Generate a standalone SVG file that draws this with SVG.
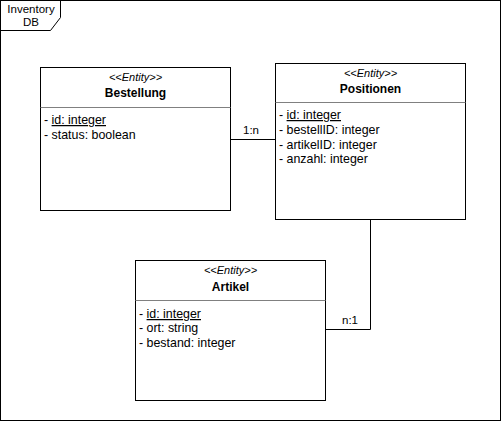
<svg xmlns="http://www.w3.org/2000/svg" width="501" height="421" viewBox="0 0 501 421">
<style>
text{font-family:"Liberation Sans",Arial,sans-serif;fill:#000}
.box{fill:#fff;stroke:#000;stroke-width:1}
.sep{stroke:#808080;stroke-width:1}
.st{font-size:11px;font-style:italic;text-anchor:middle}
.nm{font-size:12px;font-weight:bold;text-anchor:middle}
.at{font-size:12.4px}
.lbl{font-size:11.5px}
.con{fill:none;stroke:#000;stroke-width:1}
</style>
<rect width="501" height="421" fill="#fff"/>
<g id="frame">
<rect x="0.5" y="0.5" width="500" height="420" fill="none" stroke="#000"/>
<path d="M0.5 30.5 H50.5 L60.5 17.5 V0.5" fill="none" stroke="#000"/>
<text x="31" y="13" font-size="11.5" text-anchor="middle">Inventory</text>
<text x="31" y="26" font-size="11.5" text-anchor="middle">DB</text>
</g>
<g id="connectors">
<path class="con" d="M230.5 139.5 H275.5"/>
<text class="lbl" x="243" y="134">1:n</text>
<path class="con" d="M370.5 219.5 V329.5 H325.5"/>
<text class="lbl" x="342" y="324">n:1</text>
</g>
<g id="Bestellung">
<rect class="box" x="40.5" y="67.5" width="190" height="143"/>
<line class="sep" x1="40.5" y1="107.5" x2="230.5" y2="107.5"/>
<text class="st" x="135.5" y="81">&lt;&lt;Entity&gt;&gt;</text>
<text class="nm" x="135.5" y="97">Bestellung</text>
<text class="at" x="44" y="124">- <tspan text-decoration="underline">id: integer</tspan></text>
<text class="at" x="44" y="139">- status: boolean</text>
</g>
<g id="Positionen">
<rect class="box" x="275.5" y="63.5" width="190" height="156"/>
<line class="sep" x1="275.5" y1="102.5" x2="465.5" y2="102.5"/>
<text class="st" x="370.5" y="77">&lt;&lt;Entity&gt;&gt;</text>
<text class="nm" x="370.5" y="93">Positionen</text>
<text class="at" x="279" y="119">- <tspan text-decoration="underline">id: integer</tspan></text>
<text class="at" x="279" y="134">- bestellID: integer</text>
<text class="at" x="279" y="149">- artikelID: integer</text>
<text class="at" x="279" y="163">- anzahl: integer</text>
</g>
<g id="Artikel">
<rect class="box" x="135.5" y="260.5" width="190" height="140"/>
<line class="sep" x1="135.5" y1="300.5" x2="325.5" y2="300.5"/>
<text class="st" x="230.5" y="274">&lt;&lt;Entity&gt;&gt;</text>
<text class="nm" x="230.5" y="291">Artikel</text>
<text class="at" x="139" y="318">- <tspan text-decoration="underline">id: integer</tspan></text>
<text class="at" x="139" y="332">- ort: string</text>
<text class="at" x="139" y="347">- bestand: integer</text>
</g>
</svg>
